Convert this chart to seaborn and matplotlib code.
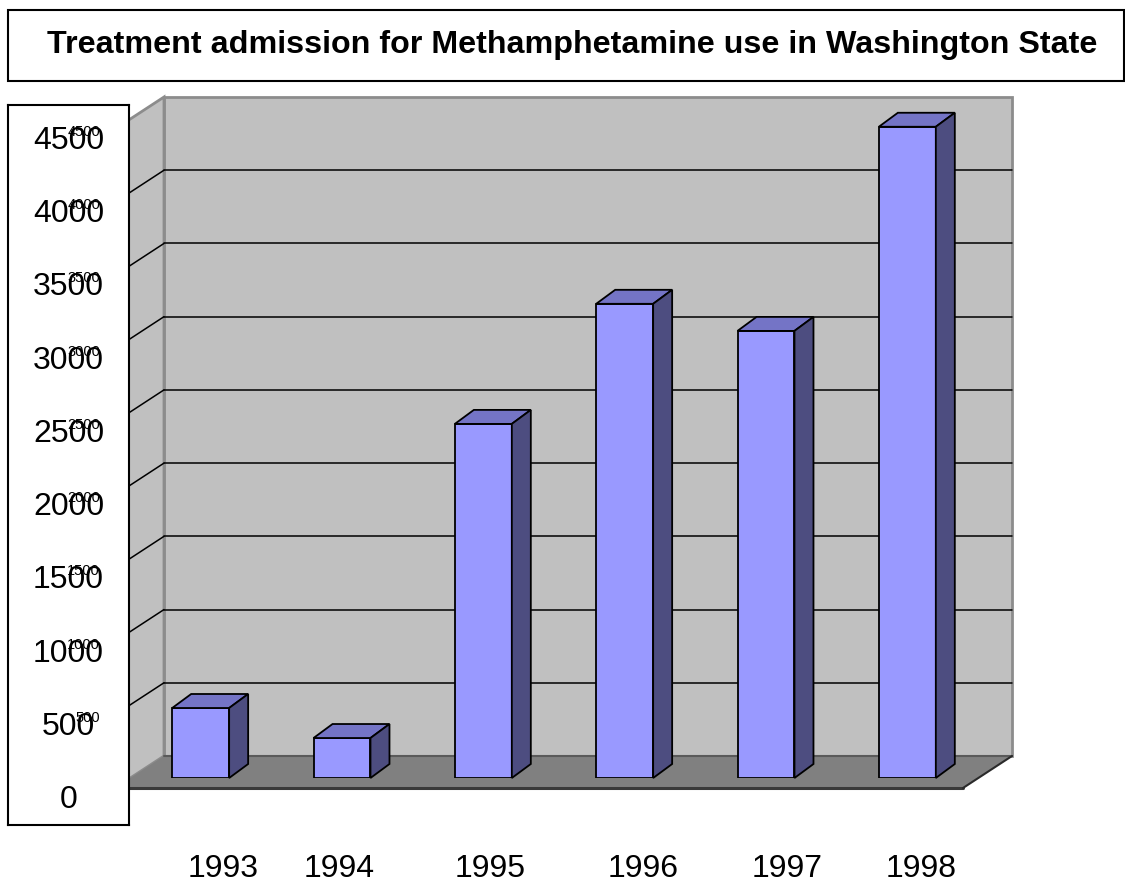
import matplotlib
matplotlib.use("Agg")
import matplotlib.pyplot as plt
import matplotlib.transforms as mtrans
from matplotlib.patches import Polygon, Rectangle
from matplotlib.lines import Line2D
import seaborn as sns
import pandas as pd

# ---- data ----
years = ["1993", "1994", "1995", "1996", "1997", "1998"]
admissions = [478, 273, 2418, 3238, 3053, 4447]
y_ticks = [0, 500, 1000, 1500, 2000, 2500, 3000, 3500, 4000, 4500]
title = "Treatment admission for Methamphetamine use in Washington State"

# ---- layout (pixels) ----
W, H = 1125, 882
label_x_px = [223, 339, 490, 643, 787, 921]

sns.set_theme(style="white")
plt.rcParams["font.family"] = ["Liberation Sans", "DejaVu Sans"]

fig = plt.figure(figsize=(W / 100, H / 100), dpi=100)
fig.patch.set_facecolor("white")

def fx(px):
    return px / W

def fy(py):
    return 1 - py / H

# main axes = plane of the bars' front faces
ax = fig.add_axes([fx(130), fy(778), (978 - 130) / W, (778 - 119) / H])
df = pd.DataFrame({"year": years, "n": admissions})
sns.barplot(data=df, x="year", y="n", color="#9999FF", saturation=1,
            width=0.403, edgecolor="black", linewidth=1.3, ax=ax, zorder=3)
bars = [p for p in ax.patches if isinstance(p, Rectangle)]
ax.set_xlim(-0.5, len(years) - 0.5)
ax.set_ylim(0, 4500)
ax.axis("off")

ident = mtrans.IdentityTransform()
B = (34, 22)    # back wall offset
F = (-15, -10)  # floor front offset
D = (19, 14)    # bar depth offset

def disp(x, y, off=(0, 0)):
    p = ax.transData.transform((x, y))
    return (p[0] + off[0], p[1] + off[1])

x0, x1 = -0.5, len(years) - 0.5
ymax = y_ticks[-1]

def poly(pts, fc, ec, lw, z):
    p = Polygon(pts, closed=True, facecolor=fc, edgecolor=ec, linewidth=lw,
                transform=ident, clip_on=False, zorder=z)
    ax.add_artist(p)

def line(p, q, c, lw, z):
    l = Line2D([p[0], q[0]], [p[1], q[1]], color=c, linewidth=lw,
               transform=ident, clip_on=False, zorder=z)
    ax.add_artist(l)

# back wall
poly([disp(x0, 0, B), disp(x1, 0, B), disp(x1, ymax, B), disp(x0, ymax, B)],
     "#C0C0C0", "#8C8C8C", 2, 0.5)
# left wall
poly([disp(x0, 0, F), disp(x0, 0, B), disp(x0, ymax, B), disp(x0, ymax, F)],
     "#C0C0C0", "#8C8C8C", 2, 0.5)
# floor
poly([disp(x0, 0, F), disp(x1, 0, F), disp(x1, 0, B), disp(x0, 0, B)],
     "#808080", "none", 0, 0.6)
line(disp(x0, 0, B), disp(x1, 0, B), "#5A5A5A", 1.5, 0.7)
line(disp(x0, 0, F), disp(x1, 0, F), "#3A3A3A", 2.2, 0.7)
line(disp(x1, 0, F), disp(x1, 0, B), "#2A2A2A", 1.5, 0.7)

# gridlines
for v in y_ticks[1:-1]:
    line(disp(x0, v, B), disp(x1, v, B), "black", 1.1, 0.8)
    line(disp(x0, v, F), disp(x0, v, B), "black", 1.1, 0.8)

# 3D bar tops and sides
for bar in bars:
    bx0 = bar.get_x()
    bx1 = bx0 + bar.get_width()
    top = bar.get_height()
    poly([disp(bx0, top), disp(bx1, top), disp(bx1, top, D), disp(bx0, top, D)],
         "#7474C6", "black", 1.3, 4)
    poly([disp(bx1, 0), disp(bx1, top), disp(bx1, top, D), disp(bx1, 0, D)],
         "#4D4D80", "black", 1.3, 4)

# y-axis label box
axb = fig.add_axes([fx(8), fy(825), (129 - 8) / W, (825 - 105) / H])
axb.set_zorder(5)
axb.set_facecolor("white")
axb.set_xticks([])
axb.set_yticks([])
for s in axb.spines.values():
    s.set_color("black")
    s.set_linewidth(1.5)

big_tr = mtrans.blended_transform_factory(
    axb.transAxes, mtrans.offset_copy(ax.transData, fig=fig, y=-22, units="dots"))
small_tr = mtrans.blended_transform_factory(
    axb.transAxes, mtrans.offset_copy(ax.transData, fig=fig, y=-13, units="dots"))
for v in y_ticks:
    axb.text(0.5, v, str(v), transform=big_tr, ha="center", va="center",
             fontsize=23, color="black")
for v in y_ticks[1:]:
    axb.text((100 - 8) / (129 - 8), v, str(v), transform=small_tr, ha="right",
             va="center", fontsize=10.5, color="black")

# title box
fig.add_artist(Rectangle((fx(8), fy(81)), (1124 - 8) / W, (81 - 10) / H,
                         transform=fig.transFigure, facecolor="white",
                         edgecolor="black", linewidth=1.5, zorder=10))
fig.text(fx(572), fy(53), title, ha="center", va="baseline",
         fontsize=23.2, fontweight="bold", color="black", zorder=11)

# x labels
for lbl, px in zip(years, label_x_px):
    fig.text(fx(px), fy(877), lbl, ha="center", va="baseline",
             fontsize=23, color="black", zorder=11)

fig.savefig("out.png", dpi=100, facecolor="white")
